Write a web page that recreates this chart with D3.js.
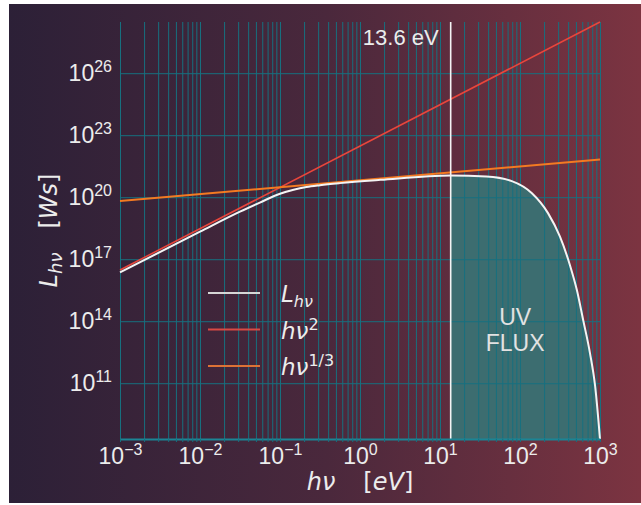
<!DOCTYPE html>
<html>
<head>
<meta charset="utf-8">
<script src="https://cdn.jsdelivr.net/npm/d3@7"></script>
<style>
  body { margin: 0; background: #fff; }
  svg { display: block; }
</style>
</head>
<body>
<div id="chart"></div>
<script>
// photon energy in eV and the spectrum L_hv in Ws
const energy = [1e-3, 1e-2, 3.16e-2, 5.6e-2, 0.1, 0.148, 0.214, 0.316, 0.56, 1.8, 13.6, 38, 79, 141, 224, 316, 422, 513, 616, 750, 870, 1000];
const lumSpectrum = [2.3e16, 2.15e18, 2.0e19, 5.5e19, 1.48e20, 2.3e20, 3.1e20, 3.8e20, 4.8e20, 6.9e20, 1.12e21, 1.0e21, 6.0e20, 1.55e20, 1.7e19, 1.23e18, 5.0e16, 3.3e15, 1.15e14, 2.8e12, 7e10, 2.0e8];

// the two power-law guide lines, end points only
const guideEnergy = [1e-3, 1e3];
const lumSquare = [3.0e16, 3.0e28];
const lumThird = [6.6e19, 6.6e21];

const ionEnergy = 13.6;

const xTickValues = [1e-3, 1e-2, 1e-1, 1e0, 1e1, 1e2, 1e3];
const xTickExp = ["\u22123", "\u22122", "\u22121", "0", "1", "2", "3"];
const yTickValues = [1e11, 1e14, 1e17, 1e20, 1e23, 1e26];
const yTickExp = ["11", "14", "17", "20", "23", "26"];

const width = 641, height = 505;
const margin = { top: 22, right: 41, bottom: 66, left: 120 };
const plotW = width - margin.left - margin.right;
const plotH = height - margin.top - margin.bottom;

const gridColor = "#17707f";
const axisColor = "#1b8595";
const textColor = "#ececec";
const redColor = "#e8463c";
const orangeColor = "#f37a22";
const whiteColor = "#f4f4f4";
const plainFont = "'Liberation Sans', Arial, sans-serif";
const mathFont = "'DejaVu Sans', sans-serif";

const svg = d3.select("#chart").append("svg")
    .attr("width", width)
    .attr("height", height);

// background gradient
const grad = svg.append("defs").append("linearGradient")
    .attr("id", "bg")
    .attr("x1", "0%").attr("x2", "100%").attr("y1", "0%").attr("y2", "0%");
grad.append("stop").attr("offset", "0%").attr("stop-color", "#2c2037");
grad.append("stop").attr("offset", "50%").attr("stop-color", "#4a283c");
grad.append("stop").attr("offset", "100%").attr("stop-color", "#7c3441");

svg.append("rect")
    .attr("x", 9).attr("y", 4)
    .attr("width", width - 9).attr("height", height - 6)
    .attr("fill", "url(#bg)");

const g = svg.append("g")
    .attr("transform", `translate(${margin.left},${margin.top})`);

const x = d3.scaleLog().domain([guideEnergy[0], guideEnergy[1]]).range([0, plotW]);
const allLum = lumSpectrum.concat(lumSquare, lumThird);
const y = d3.scaleLog().domain(d3.extent(allLum)).range([plotH, 0]);

const spectrum = energy.map((e, i) => ({ e, L: lumSpectrum[i] }));

// UV flux fill (drawn below the grid, like matplotlib)
const area = d3.area()
    .x(d => x(d.e))
    .y0(plotH)
    .y1(d => y(d.L))
    .curve(d3.curveMonotoneX);

g.append("path")
    .datum(spectrum.filter(d => d.e >= ionEnergy))
    .attr("d", area)
    .attr("fill", "#3c6d70");

// vertical grid at every log tick
const gridX = g.append("g")
    .attr("transform", `translate(0,${plotH})`)
    .call(d3.axisBottom(x).tickValues(x.ticks()).tickSize(-plotH).tickSizeOuter(0).tickFormat(""));
gridX.select(".domain").remove();
gridX.selectAll(".tick line").attr("stroke", gridColor).attr("stroke-width", 1);

// horizontal grid at the labelled decades
const gridY = g.append("g")
    .call(d3.axisLeft(y).tickValues(yTickValues).tickSize(-plotW).tickSizeOuter(0).tickFormat(""));
gridY.select(".domain").remove();
gridY.selectAll(".tick line").attr("stroke", gridColor).attr("stroke-width", 1);

// guide lines and spectrum
const line = d3.line().x(d => x(d.e)).y(d => y(d.L));

g.append("path")
    .datum(guideEnergy.map((e, i) => ({ e, L: lumSquare[i] })))
    .attr("d", line)
    .attr("fill", "none")
    .attr("stroke", redColor)
    .attr("stroke-width", 1.6);

g.append("path")
    .datum(guideEnergy.map((e, i) => ({ e, L: lumThird[i] })))
    .attr("d", line)
    .attr("fill", "none")
    .attr("stroke", orangeColor)
    .attr("stroke-width", 2);

g.append("path")
    .datum(spectrum)
    .attr("d", line.curve(d3.curveMonotoneX))
    .attr("fill", "none")
    .attr("stroke", whiteColor)
    .attr("stroke-width", 2);

// 13.6 eV marker
g.append("line")
    .attr("x1", x(ionEnergy)).attr("x2", x(ionEnergy))
    .attr("y1", 0).attr("y2", plotH)
    .attr("stroke", whiteColor)
    .attr("stroke-width", 1.6);

g.append("text")
    .attr("x", x(ionEnergy) - 12)
    .attr("y", 23)
    .attr("text-anchor", "end")
    .attr("fill", textColor)
    .style("font-family", plainFont)
    .style("font-size", "22px")
    .text("13.6 eV");

// bottom spine with small ticks
const spine = g.append("g")
    .attr("transform", `translate(0,${plotH})`)
    .call(d3.axisBottom(x).tickValues(x.ticks()).tickSize(3).tickSizeOuter(0).tickFormat(""));
spine.select(".domain").attr("stroke", axisColor).attr("stroke-width", 2);
spine.selectAll(".tick line").attr("stroke", gridColor);

// tick labels as 10^n
function powerLabels(sel, exps) {
    sel.select(".domain").remove();
    sel.attr("font-family", plainFont).attr("font-size", 23);
    sel.selectAll(".tick text").each(function (d, i) {
        const t = d3.select(this).text(null).attr("fill", textColor);
        t.append("tspan").text("10");
        t.append("tspan").attr("dy", -9).attr("font-size", 16).text(exps[i]);
    });
}

const xLabels = g.append("g")
    .attr("transform", `translate(0,${plotH})`)
    .call(d3.axisBottom(x).tickValues(xTickValues).tickSize(0).tickPadding(9));
powerLabels(xLabels, xTickExp);

const yLabels = g.append("g")
    .call(d3.axisLeft(y).tickValues(yTickValues).tickSize(0).tickPadding(8));
powerLabels(yLabels, yTickExp);

// UV FLUX label
const uv = g.append("text")
    .attr("text-anchor", "middle")
    .attr("fill", "#e2e2e2")
    .style("font-family", plainFont)
    .style("font-size", "23px");
uv.append("tspan").attr("x", x(87)).attr("y", 325 - margin.top).text("UV");
uv.append("tspan").attr("x", x(87)).attr("y", 351 - margin.top).text("FLUX");

// axis titles
const xTitle = svg.append("text")
    .attr("x", margin.left + plotW / 2)
    .attr("y", 490)
    .attr("text-anchor", "middle")
    .attr("fill", textColor)
    .style("font-family", mathFont)
    .style("font-size", "24px");
xTitle.append("tspan").style("font-style", "italic").text("h\u03bd");
xTitle.append("tspan").attr("dx", 28).text("[");
xTitle.append("tspan").style("font-style", "italic").text("eV");
xTitle.append("tspan").text("]");

const yTitle = svg.append("text")
    .attr("transform", `translate(57,${margin.top + plotH / 2}) rotate(-90)`)
    .attr("text-anchor", "middle")
    .attr("fill", textColor)
    .style("font-family", mathFont)
    .style("font-size", "24px");
yTitle.append("tspan").style("font-style", "italic").text("L");
yTitle.append("tspan").attr("dy", 5).style("font-style", "italic").style("font-size", "18px").text("h\u03bd");
yTitle.append("tspan").attr("dy", -5).attr("dx", 24).text("[");
yTitle.append("tspan").style("font-style", "italic").text("Ws");
yTitle.append("tspan").text("]");

// legend
const legendItems = [
    { color: "#d6d6d6", base: "L", sub: "h\u03bd" },
    { color: "#d84a44", base: "h\u03bd", sup: "2" },
    { color: "#dc7236", base: "h\u03bd", sup: "1/3" }
];

const legend = svg.append("g").attr("transform", "translate(208,293)");
legend.selectAll("line")
    .data(legendItems)
    .enter().append("line")
    .attr("x1", 0).attr("x2", 52)
    .attr("y1", (d, i) => i * 36.5).attr("y2", (d, i) => i * 36.5)
    .attr("stroke", d => d.color)
    .attr("stroke-width", 2);

legend.selectAll("text")
    .data(legendItems)
    .enter().append("text")
    .attr("x", 73)
    .attr("y", (d, i) => i * 36.5 + 9)
    .attr("fill", textColor)
    .style("font-family", mathFont)
    .style("font-size", "23px")
    .each(function (d) {
        const t = d3.select(this);
        t.append("tspan").style("font-style", "italic").text(d.base);
        if (d.sub) t.append("tspan").attr("dy", 5).style("font-style", "italic").style("font-size", "16px").text(d.sub);
        if (d.sup) t.append("tspan").attr("dy", -9).style("font-size", "16px").text(d.sup);
    });
</script>
</body>
</html>
